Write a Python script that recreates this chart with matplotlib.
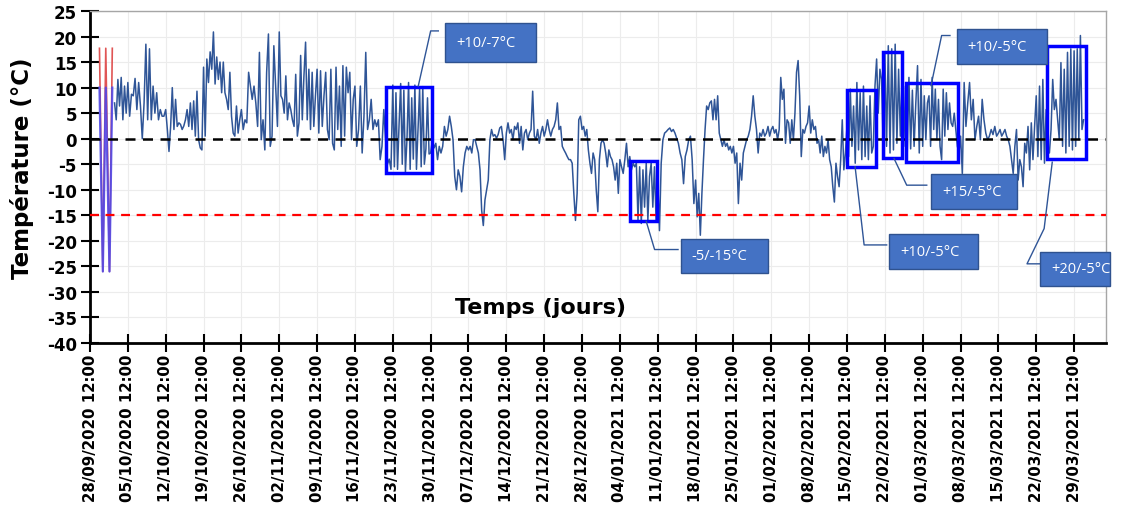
import pandas as pd
import matplotlib
matplotlib.use("Agg")
import matplotlib.pyplot as plt
import matplotlib.dates as mdates
from matplotlib.patches import Rectangle

plt.rcParams["axes.unicode_minus"] = False

# weekly chunks of readings (°C), each spread evenly over its week
w00 = [7, 3.7, 11.6, 6.4, 12, 3.7, 10.3, 5]
w01 = [11, 4.4, 8.7, 8.4, 11.8, 5.7, 11, 6.4, 0, 7, 18.5, 3.7, 17.6, 3.7, 10.3, 5, 9, 3.7, 5.7, 4.4, 4.4]
w02 = [5.7, 1.8, -2.5, 2.4, 10, 1.8, 7.7, 2.4, 3.1, 2.8, 1.8, 2.5, 3.7, 5.7, 2.4, 7, 1.8, 7.4, 0.5, 9.3, -0.2, -1.8, -2.2]
w03 = [14, 0.5, 15.6, 11, 17, 13.6, 20.9, 10.7, 16, 11.6, 15, 9, 15, 9, 7.7, 5.7, 13, 4.4, 1.1, 0.5, 6.4, 1.1, 3.7]
w04 = [5.7, 1.8, 3.7, 3.1, 13, 10.3, 7.7, 10.3, 7, 2.4, 16.9, -0.2, 3.7, -2.2, 13, 20.5, -1.5, 0.5, 18.2, 10.3, 2.4]
w05 = [20.9, 8.4, 7.7, 5, 12.3, 3.7, 7, 5.7, 3.7, 2.4, 12.6, 0.5, 3.1, 16.3, 3.7, 12.3, 18.9, 3.7, 13.6, 1.8, 13, 2.4, 8.4]
w06 = [13.6, 1.1, 13.3, 2.4, 8.4, 13, 1.8, -0.2, 13.6, -0.9, -2.2, 14, 1.8, 10.3, -1.5, 14.3, 0.5, 14, 9, 13, -0.2, 7.7]
w07 = [10.3, -1.5, 1.8, 10.3, -2.8, 4.4, 16.9, 1.8, 3.7, 7.7, 1.8, 3.7, 2.4, 3.7, -4.1, -1.5, 5.7, -0.2, -5, -4, -6]
w08 = [10.5, -5.5, 9, -6, 3, 10.8, -5, 9.5, -6.5, 0, 11, -6, 8, -4, 10.5, -6, 2, 9.8, -5.5, 10.2, -5, -2, 8, -3]
w09 = [-2.8, -0.2, -1.8, -0.9, -4.1, -1.5, -2.8, -1.5, 2.4, 0.5, 1.8, 4.4, 2.4, -0.2, -7.4, -10, -6.1, -7.4, -10.4, -5.5, -2.8, -1.5]
w10 = [-2.2, -1.5, -2.8, -0.2, -0.2, -1.5, -2.8, -6.1, -14, -17, -12, -10, -8.1, -0.2, 1.8, 0.5, 0.8, 0.1, 0.8, 2.1, 2.4, -0.2, -4.1]
w11 = [1.1, 3.1, 1.1, 1.8, -0.2, 2.4, 1.8, 3.1, -0.9, 2.4, -2.2, 1.1, 1.8, -0.2, 1.1, 1.8, 9.3, 0.5, -0.2, 1.8, -0.9, 1.1, 2.4]
w12 = [0.5, 1.8, 3.7, 1.8, 0.5, 1.8, 2.4, 3.7, 7, 1.8, 2.4, -1.5, -2.2, -2.8, -3.5, -4.1, -4.1, -4.8, -10.7, -16, -10.7, 3.7, 4.4]
w13 = [1.8, 2.4, 0.5, 1.8, -2.2, -4.8, -6.8, -2.8, -4.1, -10, -14.3, -4.1, -0.9, -0.2, -0.9, -2.8, -5.5, -2.2, -3.5, -4.1, -5.5, -8.1, -4.8, -10.7]
w14 = [-4.1, -5.5, -6.8, -4.1, -0.9, -5.5, -3.5, -6.1, -4.8, -5.5, -4.8, -16, -5.5, -16.6, -6.1, -13.4, -4.8, -16, -7.4, -4.8, -13.4, -5.5, -16]
w15 = [-8.1, -18, -4.8, -0.2, 1.1, 1.4, 1.8, 2.1, 1.4, 1.8, 1.1, 0.1, -0.9, -2.8, -4.1, -8.8, -3.5, -2.2, -0.2, 0.5, -4.1, -12.7]
w16 = [-8.1, -15.3, -10.7, -18.9, -10.7, -4.1, 1.8, 6.4, 5.7, 7, 7.4, 3.7, 7.7, 3.7, 8.4, 1.1, -0.2, -1.5, -0.2, -1.5, -0.9, -2.2, -1.5, -2.8]
w17 = [-1.5, -4.8, -2.8, -12.7, -4.8, -8.1, -2.8, -1.5, -0.2, 0.5, 1.8, 4.4, 8.4, 4.4, 1.8, -2.8, 1.1, 0.5, 1.8, 0.5, 1.1, 2.4, 0.5]
w18 = [1.8, 2.4, 1.1, 1.8, -0.2, 1.8, 12, 7.7, 9.7, -0.9, 3.7, 3.1, -0.9, 3.7, -0.2, 5, 13, 15.3, 8.4, -3.5, 1.8, 1.1, 2.4, 3.1]
w19 = [6.4, 1.1, 3.7, 1.8, 2.4, -0.9, -0.2, -2.8, 0.5, -3.5, -1.5, -2.8, -0.2, -4.1, -5.5, -9.4, -12.4, -4.8, -7.4, -9.4, -4.1, 3.7, -6.1, -2.8]
w20 = [2.4, -3.5, 9.7, -1.5, 6.4, -4.8, 11, -2.2, 9, -4.1, 10.3, -3.5, 6.4, -4.1, 8.4, -2.8, -1.5, 10.3, 15.6, 5, 13.6, 11.6, -1.5]
w21 = [16.9, -1.5, 18.2, -2.8, 17.6, -2.2, 18.5, -0.9, 13.6, 0.5, 12.3, -1.5, 10.3, -3, 12, -2, 9.5, -1.5, 7, 14.3, -2.8, 11.6]
w22 = [-1.5, 8.4, -0.2, 7, 8.4, -1.5, 12, 1.8, 9.7, -0.2, 7.7, -1.5, -4.1, 9.7, 0.5, 9, 1.8, 7, 3.1, 2.4, 5, 1.8, -1.5, -2.8]
w23 = [0.5, -6.8, 11, 2.4, 7, 11, 3.7, 7.7, -0.2, 2.4, 4.4, -0.2, 7.7, 3.7, 1.1, -0.2, 0.5, 1.8, 0.8, 2.4, 0.5]
w24 = [1.1, 1.8, 0.5, 1.1, 1.8, 0.5, -0.2, -1.5, -4.1, -6.8, -1.5, 1.8, -8.1, -4.1, -5.5, -9.4, -0.9, -2.8, 2.4, -6.1, 3.1, -4.1, 2.4]
w25 = [8.4, -3.5, 10.3, -4.1, 11.6, -4.8, 5.7, -1.5, -2.8, 1.8, 11.6, 5.7, 7.7, 3.7, -0.2, 14.9, -1.5, 13.6, -2.8, 16.9, -1.5, 17.6, -2.2]
w26 = [17.2, -1.5, 17.6, -0.2, 20.2, 1.8, 3.7]

# initial test cycles
test_times = pd.to_datetime(["2020-09-30 06:00", "2020-09-30 21:00", "2020-10-01 10:00",
                             "2020-10-02 02:30", "2020-10-02 15:00"])
test_hot = [17.7, -26, 17.7, -26, 17.7]
test_cold = [10, -26, 10, -26, 10]

# cycle zones: (start, end, min, max)
zones = [
    ("2020-11-22 05:00", "2020-11-30 18:00", -6.7, 10.1),
    ("2021-01-06 09:00", "2021-01-11 09:00", -16.2, -4.4),
    ("2021-02-15 10:00", "2021-02-20 21:00", -5.5, 9.6),
    ("2021-02-22 05:00", "2021-02-25 15:00", -3.8, 17.0),
    ("2021-02-26 12:00", "2021-03-08 02:00", -4.6, 11.0),
    ("2021-03-24 10:00", "2021-03-31 15:00", -3.9, 18.1),
]

# labels: text, box (start, end, low, high), leader points (dates, temps)
labels = [
    ("+10/-7°C", ("2020-12-03 04:00", "2020-12-19 22:00", 15.0, 22.65),
     (["2020-11-28 05:00", "2020-11-30 12:00", "2020-12-01 22:00"], [10.3, 21.1, 21.1])),
    ("-5/-15°C", ("2021-01-15 18:00", "2021-01-31 21:00", -26.3, -19.6),
     (["2021-01-09 09:00", "2021-01-10 22:00", "2021-01-15 06:00"], [-16.2, -21.7, -21.7])),
    ("+10/-5°C", ("2021-02-23 08:00", "2021-03-11 16:00", -25.45, -18.6),
     (["2021-02-17 00:00", "2021-02-18 16:00", "2021-02-22 20:00"], [-5.5, -20.8, -20.8])),
    ("+15/-5°C", ("2021-03-03 01:00", "2021-03-19 00:00", -13.7, -6.85),
     (["2021-02-24 05:00", "2021-02-26 13:00", "2021-03-02 06:00"], [-3.9, -9.1, -9.1])),
    ("+10/-5°C", ("2021-03-07 20:00", "2021-03-24 11:00", 14.7, 21.4),
     (["2021-03-03 01:00", "2021-03-05 00:00", "2021-03-06 13:00"], [10.4, 20.2, 20.2])),
    ("+20/-5°C", ("2021-03-23 05:00", "2021-04-05 02:00", -28.8, -22.1),
     (["2021-03-25 11:00", "2021-03-23 23:00", "2021-03-20 19:00", "2021-03-23 21:00"],
      [-4.6, -17.6, -24.5, -24.5])),
]

# build main series
weeks = [w01, w02, w03, w04, w05, w06, w07, w08, w09, w10, w11, w12, w13,
         w14, w15, w16, w17, w18, w19, w20, w21, w22, w23, w24, w25]
week_starts = pd.date_range("2020-10-05 12:00", periods=len(weeks), freq="7D")

times, temps = [], []

def add_chunk(vals, start, end, closed=False):
    n = len(vals)
    step = (end - start) / (n - 1 if closed else n)
    for i, v in enumerate(vals):
        times.append(start + i * step)
        temps.append(v)

add_chunk(w00, pd.Timestamp("2020-10-03 01:00"), pd.Timestamp("2020-10-05 12:00"))
for ws, vals in zip(week_starts, weeks):
    add_chunk(vals, ws, ws + pd.Timedelta(days=7))
add_chunk(w26, pd.Timestamp("2021-03-29 12:00"), pd.Timestamp("2021-03-31 06:00"), closed=True)

fig = plt.figure(figsize=(11.22, 5.10), dpi=100)
ax = fig.add_axes([90 / 1122, 1 - 344 / 510, 1016 / 1122, 332 / 510])

ax.plot(test_times, test_hot, color="#e05555", lw=1.2, zorder=3)
ax.plot(test_times, test_cold, color="#4848f0", lw=1.6, alpha=0.85, zorder=3)
ax.plot(times, temps, color="#2f5597", lw=1.1, zorder=3)

ax.axhline(0, color="black", lw=1.8, dashes=(4, 3), zorder=4)
ax.axhline(-15, color="#ff0000", lw=1.6, dashes=(4, 3), zorder=4)

for s, e, lo, hi in zones:
    x0 = mdates.date2num(pd.Timestamp(s))
    x1 = mdates.date2num(pd.Timestamp(e))
    ax.add_patch(Rectangle((x0, lo), x1 - x0, hi - lo, fill=False,
                           edgecolor="#0000ff", lw=2.5, zorder=5))

for txt, (s, e, lo, hi), (lx, ly) in labels:
    x0 = mdates.date2num(pd.Timestamp(s))
    x1 = mdates.date2num(pd.Timestamp(e))
    ax.plot(pd.to_datetime(lx), ly, color="#2f5597", lw=1.0, zorder=6, clip_on=False)
    ax.add_patch(Rectangle((x0, lo), x1 - x0, hi - lo, facecolor="#4472c4",
                           edgecolor="#2f528f", lw=1.0, zorder=7, clip_on=False))
    ax.text(x0 + 2.0, (lo + hi) / 2, txt, color="white", fontsize=10.5,
            family="Open Sans", ha="left", va="center", zorder=8, clip_on=False)

ax.set_ylim(-40, 25)
ax.set_yticks(range(-40, 26, 5))
ax.set_xlim(mdates.date2num(pd.Timestamp("2020-09-28 12:00")),
            mdates.date2num(pd.Timestamp("2020-09-28 12:00")) + 187.9)
ticks = pd.date_range("2020-09-28 12:00", "2021-03-29 12:00", freq="7D")
ax.set_xticks(ticks)
ax.set_xticklabels([t.strftime("%d/%m/%Y %H:%M") for t in ticks], rotation=90,
                   fontweight="bold", fontsize=10.8)
for lab in ax.get_yticklabels():
    lab.set_fontweight("bold")
ax.tick_params(axis="y", labelsize=12, direction="inout", length=13, width=1.5, pad=3)
ax.tick_params(axis="x", direction="inout", length=13, width=1.5, pad=1)

ax.grid(True, color="#ececec", lw=0.8, zorder=0)
ax.set_axisbelow(True)
for side in ["left", "bottom"]:
    ax.spines[side].set_linewidth(2)
    ax.spines[side].set_color("black")
for side in ["top", "right"]:
    ax.spines[side].set_linewidth(1)
    ax.spines[side].set_color("#a6a6a6")

ax.text(0.443, 0.108, "Temps (jours)", transform=ax.transAxes, fontsize=16,
        fontweight="bold", ha="center", va="center")
fig.text(22 / 1122, 1 - 168 / 510, "Température (°C)", rotation=90, fontsize=16.5,
         fontweight="bold", ha="center", va="center")

fig.savefig("out.png", dpi=100)
